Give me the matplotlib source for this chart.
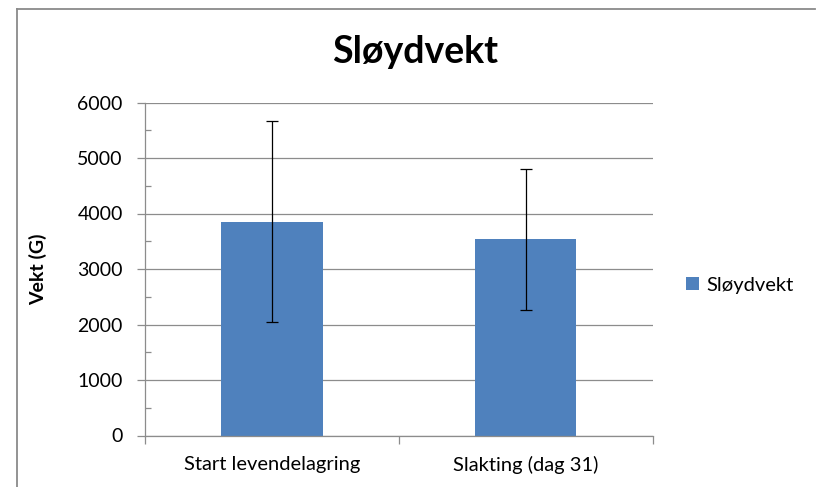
import matplotlib
matplotlib.use("Agg")
import matplotlib.pyplot as plt
from matplotlib.lines import Line2D
from matplotlib.ticker import MultipleLocator

# data
categories = ["Start levendelagring", "Slakting (dag 31)"]
vekt = [3855, 3532]
std = [1815, 1268]
serie = "Sløydvekt"

plt.rcParams['font.family'] = ['Lato', 'DejaVu Sans']

fig = plt.figure(figsize=(8.16, 4.87), dpi=100)
ax = fig.add_axes([145/816, 1-435.5/487, (652.5-145)/816, (435.5-102.5)/487])

grid_col = "#8c8c8c"
x = range(len(categories))
ax.bar(x, vekt, width=0.4, color="#4f81bd", label=serie, zorder=2)
ax.errorbar(x, vekt, yerr=std, fmt="none", ecolor="black", elinewidth=0.9,
            capsize=4, capthick=0.9, zorder=3)

ax.set_xlim(-0.5, 1.5)
ax.set_ylim(0, 6000)
ax.yaxis.set_major_locator(MultipleLocator(1000))
ax.yaxis.set_minor_locator(MultipleLocator(500))
ax.grid(axis="y", which="major", color=grid_col, linewidth=0.9, zorder=0)

ax.set_xticks([-0.5, 0.5, 1.5])
ax.set_xticklabels([])
ax.set_xticks(list(x), minor=True)
ax.set_xticklabels(categories, minor=True, fontsize=14.5)
ax.tick_params(axis="x", which="major", length=6, color=grid_col, width=0.9)
ax.tick_params(axis="x", which="minor", length=0, pad=15)
ax.tick_params(axis="y", which="major", length=6, color=grid_col, width=0.9,
               labelsize=14, pad=10)
ax.tick_params(axis="y", which="minor", direction="in", length=4,
               color=grid_col, width=0.9)

for s in ["top", "right"]:
    ax.spines[s].set_visible(False)
for s in ["left", "bottom"]:
    ax.spines[s].set_color(grid_col)
    ax.spines[s].set_linewidth(0.9)

ax.set_ylabel("Vekt (G)", fontsize=14, fontweight="bold", labelpad=22)
fig.text(415/816, 1-52/487, "Sløydvekt", ha="center", va="center",
         fontsize=27, fontweight="bold")

fig.legend(loc="center left", bbox_to_anchor=(686/816, 1-285/487),
           frameon=False, fontsize=14.5, handlelength=0.65, handleheight=0.65,
           handletextpad=0.35, borderpad=0, borderaxespad=0)

# chart frame, only left and top edges visible
fx, fy = 17/816, 1 - 9/487
fig.add_artist(Line2D([fx, fx], [0, fy], transform=fig.transFigure,
                      color="#8a8a8a", linewidth=1.3))
fig.add_artist(Line2D([fx, 0.999], [fy, fy], transform=fig.transFigure,
                      color="#8a8a8a", linewidth=1.3))

fig.savefig("out.png", dpi=100)
